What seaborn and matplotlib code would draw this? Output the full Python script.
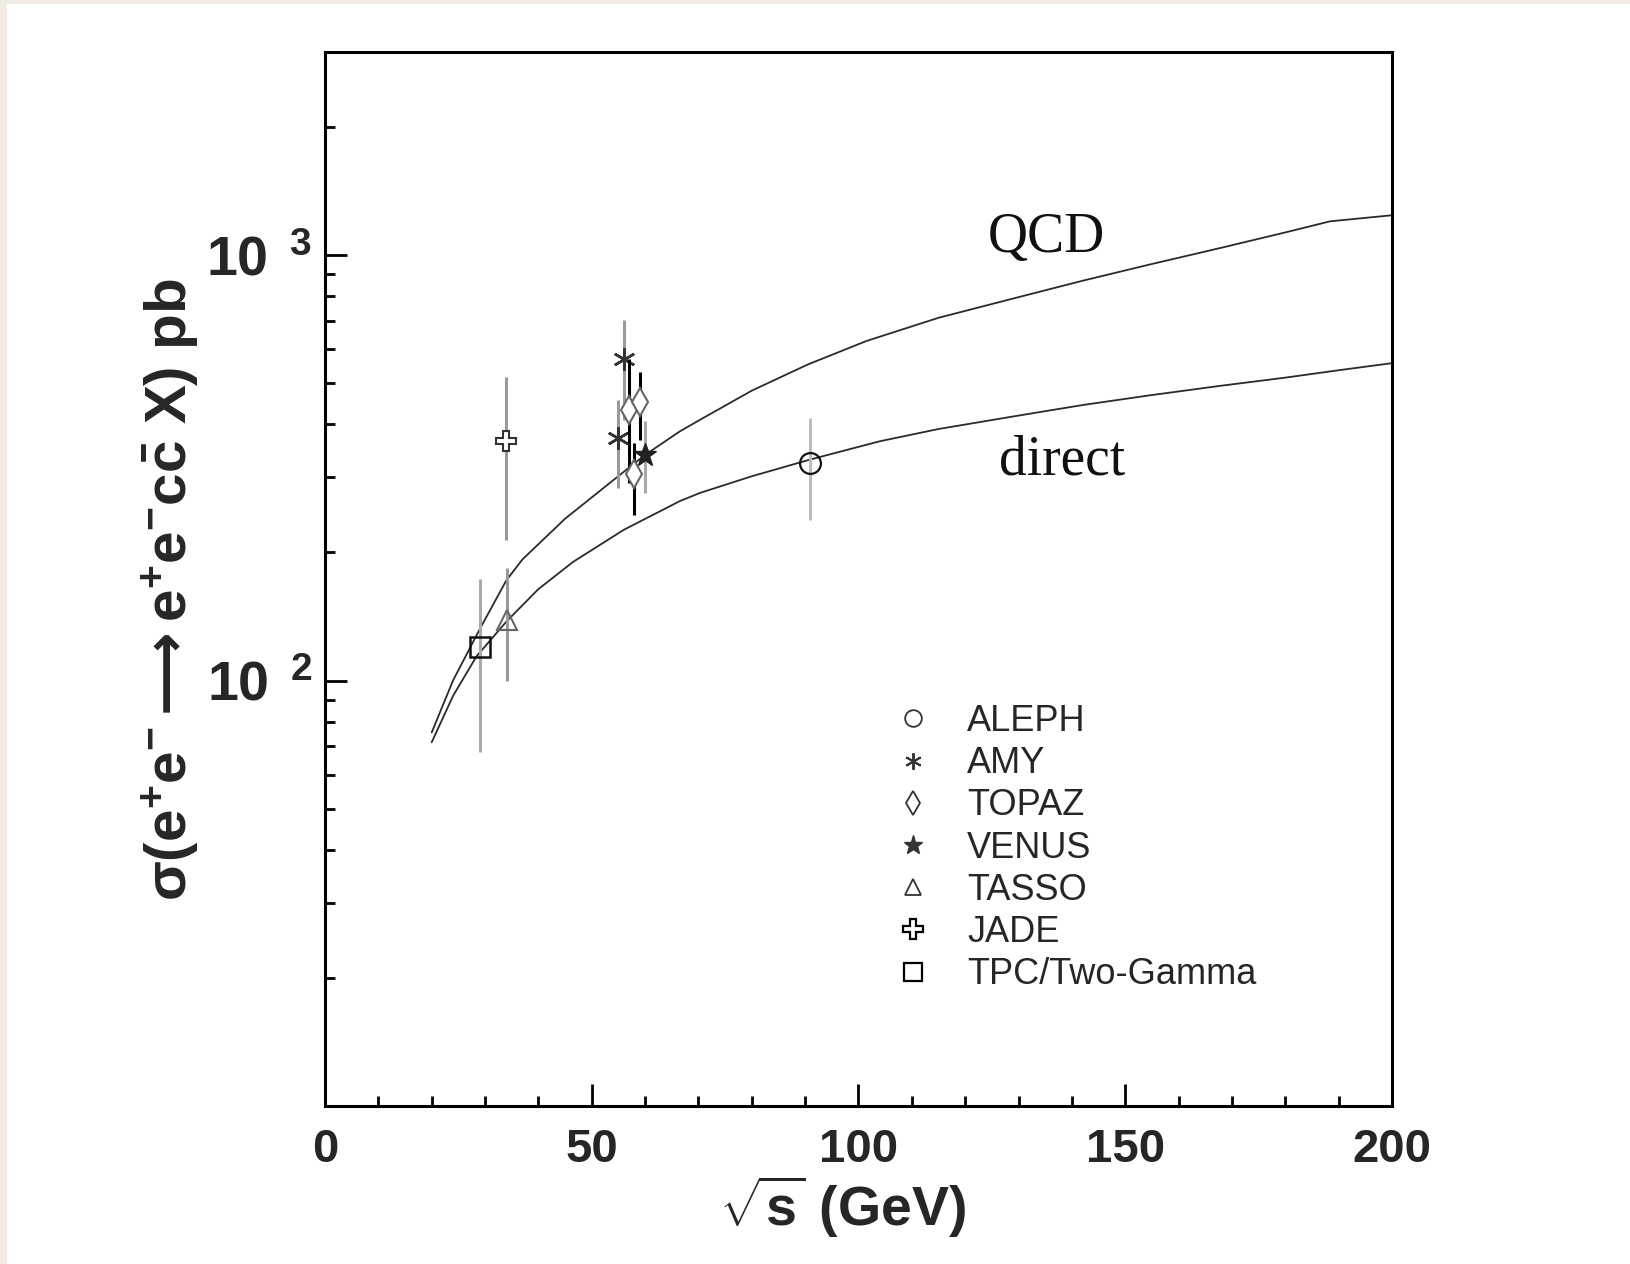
import matplotlib
matplotlib.use("Agg")
import matplotlib.pyplot as plt
from matplotlib.patches import Rectangle
from matplotlib.lines import Line2D
from matplotlib.ticker import FixedLocator, MultipleLocator, LogLocator, NullFormatter
import numpy as np
import pandas as pd
import seaborn as sns

# ---- theory curves: sigma(e+e- -> e+e- c cbar X) in pb vs sqrt(s) in GeV ----
qcd_sqrts = [20, 24, 29, 34, 37, 45, 56.5, 60, 66.5, 70.3, 80, 90.5, 101.5, 115, 129.3, 142, 154.6, 168, 180, 188.4, 200]
qcd_sigma = [75.5, 100, 132, 172, 192.5, 240, 313, 339, 385, 410, 480, 553, 628, 712, 792, 870, 950, 1040, 1130, 1200, 1240]

direct_sqrts = [20, 24, 28.4, 34.1, 40, 46.5, 56, 66.5, 70.3, 80, 90.7, 104, 115, 129.3, 142, 154.6, 168, 180, 190, 200]
direct_sigma = [71.6, 92, 114, 138, 164, 190, 226, 264, 276, 302, 330, 365, 390, 418, 444, 468, 493, 515, 536, 557]

# ---- measurements ----
experiments = ["ALEPH", "AMY", "TOPAZ", "VENUS", "TASSO", "JADE", "TPC/Two-Gamma"]

aleph_x, aleph_y, aleph_lo, aleph_hi = [91.0], [325.0], [239.0], [414.0]
amy_x, amy_y, amy_lo, amy_hi = [56.0, 55.0], [569.0, 371.0], [410.0, 284.0], [703.0, 457.0]
topaz_x, topaz_y, topaz_lo, topaz_hi = [57.0, 59.0, 58.0], [433.0, 452.0, 305.0], [291.0, 368.0, 245.0], [569.0, 532.0, 362.0]
venus_x, venus_y, venus_lo, venus_hi = [60.0], [339.0], [276.0], [407.0]
tasso_x, tasso_y, tasso_lo, tasso_hi = [34.2], [139.0], [100.0], [184.0]
jade_x, jade_y, jade_lo, jade_hi = [34.0], [365.0], [214.0], [518.0]
tpc_x, tpc_y, tpc_lo, tpc_hi = [29.0], [120.0], [68.0], [173.0]

x_major_ticks = [0, 50, 100, 150, 200]
y_major_ticks = [100, 1000]
y_tick_labels = [r"$\mathbf{10^{\ \ 2}}$", r"$\mathbf{10^{\ \ 3}}$"]

sns.set_theme(style="ticks")
plt.rcParams["font.family"] = ["Liberation Sans", "DejaVu Sans"]
plt.rcParams["mathtext.fontset"] = "custom"
plt.rcParams["mathtext.rm"] = "Liberation Sans"
plt.rcParams["mathtext.it"] = "Liberation Sans"
plt.rcParams["mathtext.bf"] = "Liberation Sans:bold"
plt.rcParams["mathtext.sf"] = "DejaVu Sans:bold"

W, H = 1631, 1264
fig = plt.figure(figsize=(W / 100, H / 100), dpi=100)
fig.patch.set_facecolor("#f2ebe4")
fig.add_artist(Rectangle((7 / W, 0), 1 - 7 / W, 1 - 4 / H, transform=fig.transFigure,
                         facecolor="white", edgecolor="none", zorder=-10))

ax = fig.add_axes([325 / W, 1 - 1106 / H, (1392 - 325) / W, (1106 - 52) / H])
ax.set_facecolor("white")

curves = pd.concat([
    pd.DataFrame({"sqrts": qcd_sqrts, "sigma": qcd_sigma, "model": "QCD"}),
    pd.DataFrame({"sqrts": direct_sqrts, "sigma": direct_sigma, "model": "direct"}),
])
sns.lineplot(data=curves, x="sqrts", y="sigma", hue="model", units="model", estimator=None,
             palette={"QCD": "#2a2a2a", "direct": "#2a2a2a"}, linewidth=1.3,
             legend=False, ax=ax, zorder=2)


def draw(xs, ys, lo, hi, marker, ms, mfc, mec, mew, ecolor, zo=3):
    xs = np.asarray(xs); ys = np.asarray(ys)
    yerr = [ys - np.asarray(lo), np.asarray(hi) - ys]
    ax.errorbar(xs, ys, yerr=yerr, fmt="none", ecolor=ecolor, elinewidth=2.2, capsize=0, zorder=zo)
    ax.plot(xs, ys, linestyle="none", marker=marker, markersize=ms, markerfacecolor=mfc,
            markeredgecolor=mec, markeredgewidth=mew, zorder=zo + 1)


asterisk = (6, 2, 0)
draw(aleph_x, aleph_y, aleph_lo, aleph_hi, "o", 15, "none", "#111111", 1.6, "#bdbdbd")
draw(amy_x, amy_y, amy_lo, amy_hi, asterisk, 16, "none", "#333333", 1.8, "#9a9a9a")
draw(topaz_x, topaz_y, topaz_lo, topaz_hi, "d", 14, "white", "#666666", 1.5, "#000000", zo=4)
draw(venus_x, venus_y, venus_lo, venus_hi, "*", 17, "#222222", "#222222", 1.0, "#a8a8a8")
draw(tasso_x, tasso_y, tasso_lo, tasso_hi, "^", 15, "none", "#666666", 1.5, "#9a9a9a")
draw(jade_x, jade_y, jade_lo, jade_hi, "P", 15, "white", "#333333", 1.5, "#999999")
draw(tpc_x, tpc_y, tpc_lo, tpc_hi, "s", 15, "none", "#111111", 1.8, "#aaaaaa")

ax.text(135.3, 1015, "QCD", family="Liberation Serif", fontsize=40, ha="center", va="baseline", color="#111111")
ax.text(138.1, 305, "direct", family="Liberation Serif", fontsize=40, ha="center", va="baseline", color="#111111")

# axes, scales, ticks
ax.set_yscale("log")
ax.set_xlim(0, 200)
ax.set_ylim(10, 3000)
ax.xaxis.set_major_locator(FixedLocator(x_major_ticks))
ax.xaxis.set_minor_locator(MultipleLocator(10))
ax.set_xticklabels([str(t) for t in x_major_ticks])
ax.yaxis.set_major_locator(FixedLocator(y_major_ticks))
ax.set_yticklabels(y_tick_labels)
ax.yaxis.set_minor_locator(LogLocator(base=10, subs=np.arange(2, 10)))
ax.yaxis.set_minor_formatter(NullFormatter())

for side in ["left", "right", "top", "bottom"]:
    ax.spines[side].set_visible(True)
    ax.spines[side].set_linewidth(2.2)
    ax.spines[side].set_color("black")

ax.tick_params(which="both", direction="in", top=False, right=False, color="black", width=2.0)
ax.tick_params(which="major", length=16)
ax.tick_params(which="minor", length=7)
ax.tick_params(axis="x", which="major", labelsize=34, pad=16)
ax.tick_params(axis="y", which="major", labelsize=40, pad=9)
for lab in ax.get_xticklabels():
    lab.set_fontweight("bold")

ax.set_xlabel(r"$\mathbf{\sqrt{s}}$ (GeV)", fontsize=40, fontweight="bold")
ax.xaxis.set_label_coords(0.485, -0.096)
ax.xaxis.label.set_va("center")

ax.set_ylabel(r"$\mathbf{\sigma(e^{+}e^{-}}\mathsf{\longrightarrow}\mathbf{e^{+}e^{-}c\bar{c}\ X)\ pb}$", fontsize=42)
ax.yaxis.set_label_coords(-0.145, 0.49)
ax.yaxis.label.set_va("center")

# legend
handles = [
    Line2D([], [], linestyle="none", marker="o", markersize=12, markerfacecolor="none", markeredgecolor="#333333", markeredgewidth=1.3),
    Line2D([], [], linestyle="none", marker=asterisk, markersize=12, markeredgecolor="#333333", markeredgewidth=1.4),
    Line2D([], [], linestyle="none", marker="d", markersize=12, markerfacecolor="none", markeredgecolor="#333333", markeredgewidth=1.3),
    Line2D([], [], linestyle="none", marker="*", markersize=14, markerfacecolor="#333333", markeredgecolor="#333333"),
    Line2D([], [], linestyle="none", marker="^", markersize=12, markerfacecolor="none", markeredgecolor="#333333", markeredgewidth=1.3),
    Line2D([], [], linestyle="none", marker="P", markersize=14, markerfacecolor="none", markeredgecolor="black", markeredgewidth=1.6),
    Line2D([], [], linestyle="none", marker="s", markersize=13, markerfacecolor="none", markeredgecolor="black", markeredgewidth=1.6),
]
ax.legend(handles, experiments, loc="upper left", bbox_to_anchor=(895 / W, 1 - 704 / H),
          bbox_transform=fig.transFigure, frameon=False, fontsize=26, borderpad=0,
          handlelength=1.0, handletextpad=1.0, labelspacing=0.2, borderaxespad=0)

fig.savefig("out.png", dpi=100, facecolor=fig.get_facecolor())
